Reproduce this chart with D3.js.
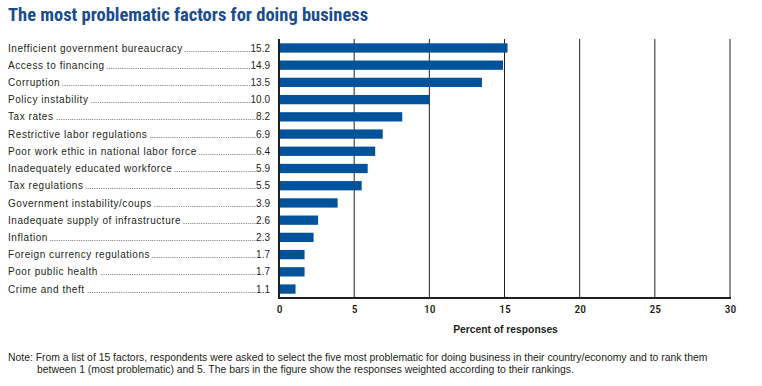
<!DOCTYPE html>
<html>
<head>
<meta charset="utf-8">
<script src="https://cdn.jsdelivr.net/npm/d3@7"></script>
<style>
	body { margin: 0; background: #fff; }
	svg { display: block; }
	text { font-family: "Liberation Sans", Arial, sans-serif; }
	.condensed { font-family: "Liberation Sans Narrow", "Arial Narrow", "Roboto Condensed", sans-serif; }
</style>
</head>
<body>
<div class="chart"></div>
<script>
// factors, top to bottom
const factors = [
	'Inefficient government bureaucracy',
	'Access to financing',
	'Corruption',
	'Policy instability',
	'Tax rates',
	'Restrictive labor regulations',
	'Poor work ethic in national labor force',
	'Inadequately educated workforce',
	'Tax regulations',
	'Government instability/coups',
	'Inadequate supply of infrastructure',
	'Inflation',
	'Foreign currency regulations',
	'Poor public health',
	'Crime and theft'
]
const values = [15.2, 14.9, 13.5, 10.0, 8.2, 6.9, 6.4, 5.9, 5.5, 3.9, 2.6, 2.3, 1.7, 1.7, 1.1]
const xTicks = [0, 5, 10, 15, 20, 25, 30]

const data = factors.map((f, i) => ({factor: f, value: values[i]}))

const width = 762
const height = 386
const svg = d3.select('.chart')
	.append('svg')
	.attr('width', width)
	.attr('height', height)

const x = d3.scaleLinear().domain([0, 30]).range([279, 730])
const y = d3.scaleBand().domain(factors).range([39, 298]).paddingInner(0.46).paddingOuter(0.25)

// title
svg.append('text')
	.attr('class', 'condensed')
	.text('The most problematic factors for doing business')
	.attr('x', 8)
	.attr('y', 21)
	.attr('font-size', '18.5px')
	.attr('font-weight', 'bold')
	.attr('fill', '#1a4c8c')

// gridlines
svg.selectAll('line.grid')
	.data(xTicks.slice(1))
	.enter()
	.append('line')
	.attr('class', 'grid')
	.attr('x1', d => x(d))
	.attr('x2', d => x(d))
	.attr('y1', 39)
	.attr('y2', 298)
	.attr('stroke', '#231f20')
	.attr('stroke-width', 1)

// bars
svg.selectAll('rect')
	.data(data)
	.enter()
	.append('rect')
	.attr('x', x(0))
	.attr('y', d => y(d.factor))
	.attr('width', d => x(d.value) - x(0))
	.attr('height', y.bandwidth())
	.attr('fill', '#00529b')

// axis frame lines
svg.append('line')
	.attr('x1', x(0)).attr('x2', x(0))
	.attr('y1', 39).attr('y2', 299)
	.attr('stroke', '#231f20').attr('stroke-width', 2)
svg.append('line')
	.attr('x1', x(0) - 1).attr('x2', x(30) + 1)
	.attr('y1', 298).attr('y2', 298)
	.attr('stroke', '#231f20').attr('stroke-width', 2)

// x tick labels
const xAxis = svg.append('g')
	.attr('transform', 'translate(0,298)')
	.call(d3.axisBottom(x).tickValues(xTicks).tickSize(0).tickPadding(7))
xAxis.select('.domain').remove()
xAxis.selectAll('text')
	.attr('class', 'condensed')
	.attr('font-size', '11.5px')
	.attr('font-weight', '500')
	.attr('fill', '#231f20')

svg.append('text')
	.text('Percent of responses')
	.attr('x', (x(0) + x(30)) / 2 + 1)
	.attr('y', 333)
	.attr('text-anchor', 'middle')
	.attr('font-size', '10.3px')
	.attr('font-weight', 'bold')
	.attr('fill', '#231f20')

// category labels with dot leaders
const rows = svg.selectAll('g.row')
	.data(data)
	.enter()
	.append('g')
	.attr('class', 'row')
	.attr('transform', d => `translate(0,${y(d.factor) + y.bandwidth() / 2 + 3.6})`)

rows.append('text')
	.attr('class', 'label')
	.text(d => d.factor)
	.attr('x', 8)
	.attr('font-size', '10px')
	.attr('letter-spacing', '0.55px')
	.attr('fill', '#231f20')

rows.append('text')
	.attr('class', 'value')
	.text(d => d.value.toFixed(1))
	.attr('x', 270)
	.attr('text-anchor', 'end')
	.attr('font-size', '10px')
	.attr('fill', '#231f20')

// measure a dot
const probe = svg.append('text').attr('font-size', '8px').text('..........')
const dotW = probe.node().getComputedTextLength() / 10
probe.remove()

rows.each(function() {
	const g = d3.select(this)
	const lab = g.select('text.label').node()
	const val = g.select('text.value').node()
	const start = 8 + lab.getComputedTextLength() + 1
	const end = 270 - val.getComputedTextLength()
	const n = Math.max(0, Math.floor((end - start) / dotW))
	g.append('text')
		.text('.'.repeat(n))
		.attr('x', end)
		.attr('text-anchor', 'end')
		.attr('font-size', '8px')
		.attr('fill', '#231f20')
})

// note
const note = svg.append('text')
	.attr('font-size', '10.4px')
	.attr('fill', '#231f20')
note.append('tspan')
	.attr('x', 8).attr('y', 361)
	.text('Note: From a list of 15 factors, respondents were asked to select the five most problematic for doing business in their country/economy and to rank them')
note.append('tspan')
	.attr('x', 37).attr('y', 373)
	.text('between 1 (most problematic) and 5. The bars in the figure show the responses weighted according to their rankings.')
</script>
</body>
</html>
